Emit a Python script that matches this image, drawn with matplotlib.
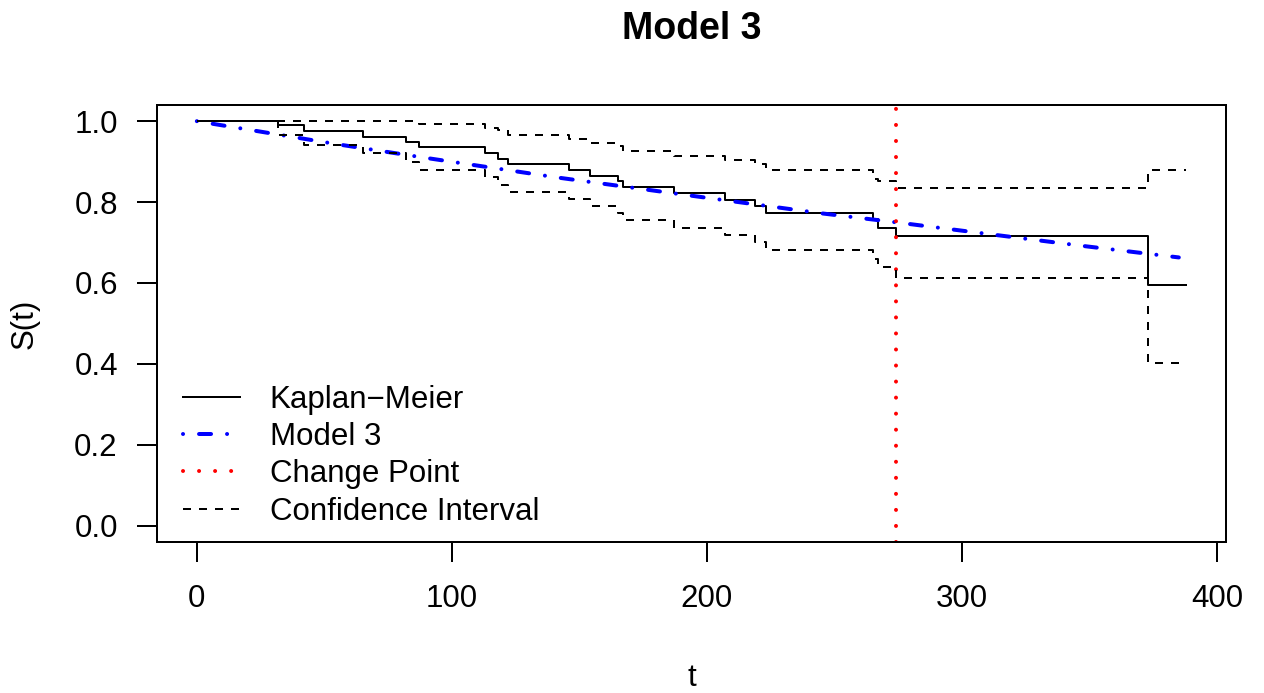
import numpy as np
import matplotlib
matplotlib.use("Agg")
from matplotlib import pyplot as plt

plt.rcParams['font.family'] = ['Liberation Sans', 'DejaVu Sans']

# Kaplan-Meier steps (event times and survival after each drop)
km_times = [0, 32, 42, 65, 82, 87, 113, 118, 122, 146, 154, 165, 167, 187, 207,
            219, 223, 265, 267, 274, 373]
km_surv = [1.0, 0.990, 0.975, 0.961, 0.949, 0.935, 0.922, 0.907, 0.893, 0.879,
           0.865, 0.851, 0.837, 0.822, 0.805, 0.790, 0.772, 0.757, 0.737, 0.715,
           0.596]
ci_upper = [1.0, 1.0, 1.0, 1.0, 1.0, 0.992, 0.984, 0.978, 0.967, 0.956, 0.946,
            0.938, 0.926, 0.915, 0.903, 0.895, 0.879, 0.857, 0.851, 0.835, 0.880]
ci_lower = [1.0, 0.965, 0.942, 0.922, 0.900, 0.880, 0.861, 0.843, 0.826, 0.808,
            0.790, 0.772, 0.755, 0.736, 0.719, 0.702, 0.681, 0.658, 0.639, 0.612,
            0.403]
t_end = 388

# fitted Model 3 curve
model_t = [0, 55, 90, 141, 176, 245, 274, 314, 348, 385]
model_s = [1.0, 0.943, 0.909, 0.861, 0.831, 0.772, 0.750, 0.718, 0.691, 0.663]

change_point = 274

fs = 22.5

fig = plt.figure(figsize=(12.64, 6.93), dpi=100)
ax = fig.add_axes([157.3 / 1264, 1 - 541.7 / 693, (1226 - 157.3) / 1264, (541.7 - 105) / 693])

tt = km_times + [t_end]
ax.step(tt, km_surv + [km_surv[-1]], where='post', color='black', lw=1.44,
        label='Kaplan\u2212Meier')
ax.plot(model_t, model_s, color='blue', lw=2.88, linestyle=(0, (0.01, 4, 3, 4)),
        dash_capstyle='round', label='Model 3')
ax.axvline(change_point, color='red', lw=2.88, linestyle=(0, (0.01, 4)),
           dash_capstyle='round', label='Change Point')
ax.step(tt, ci_upper + [ci_upper[-1]], where='post', color='black', lw=1.44,
        linestyle=(0, (4, 4)), label='Confidence Interval')
ax.step(tt, ci_lower + [ci_lower[-1]], where='post', color='black', lw=1.44,
        linestyle=(0, (4, 4)))

ax.set_xlim(-15.5, 403.5)
ax.set_ylim(-0.04, 1.04)
ax.set_xticks([0, 100, 200, 300, 400])
ax.set_yticks([0.0, 0.2, 0.4, 0.6, 0.8, 1.0])
ax.set_yticklabels(['0.0', '0.2', '0.4', '0.6', '0.8', '1.0'])
ax.tick_params(axis='both', labelsize=fs, length=14.4, width=1.44, direction='out')
ax.tick_params(axis='x', pad=16)
ax.tick_params(axis='y', pad=14)
for sp in ax.spines.values():
    sp.set_linewidth(1.44)

fig.text(691.6 / 1264, 1 - 29 / 693, 'Model 3', fontsize=27, fontweight='bold',
         ha='center', va='center')
fig.text(691.6 / 1264, 1 - 686 / 693, 't', fontsize=fs, ha='center', va='baseline')
fig.text(25 / 1264, 1 - 324 / 693, 'S(t)', fontsize=fs, ha='center', va='center',
         rotation=90)

leg = ax.legend(loc='upper left', bbox_to_anchor=(183 / 1264, 1 - 385 / 693),
                bbox_transform=fig.transFigure, frameon=False, fontsize=fs,
                handlelength=1.83, handletextpad=0.94, labelspacing=0.23,
                borderpad=0, borderaxespad=0)

fig.savefig('out.png', dpi=100)
